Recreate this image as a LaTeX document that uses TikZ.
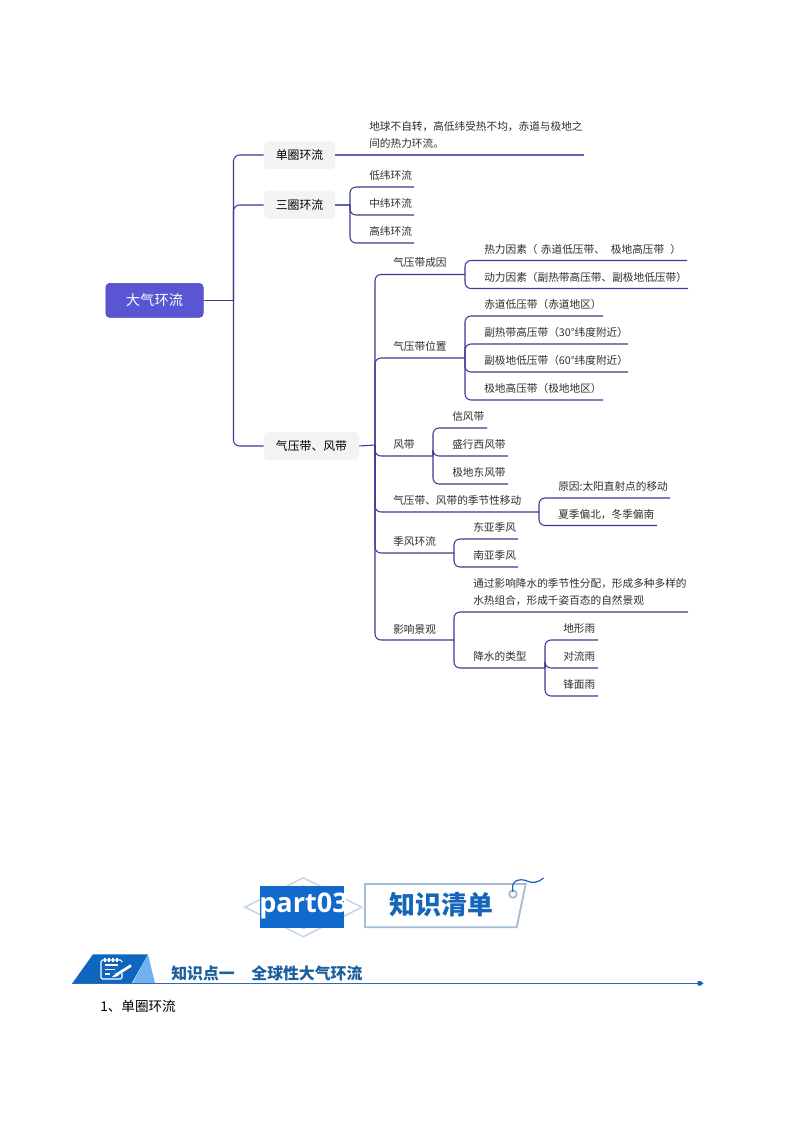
\documentclass[tikz,border=0pt]{standalone}
\usepackage{fontspec}
\setmainfont{Noto Sans CJK SC}
\newfontfamily\partfont{Open Sans}
\definecolor{linedark}{HTML}{3B3A94}
\definecolor{linelight}{HTML}{6262B8}
\definecolor{rootfill}{HTML}{5A55D2}
\definecolor{topicfill}{HTML}{F3F3F3}
\definecolor{txt}{HTML}{2E2E2E}
\definecolor{headblue}{HTML}{1269CC}
\definecolor{headtext}{HTML}{1565B8}
\definecolor{paleblue}{HTML}{C3D5E8}
\definecolor{boxedge}{HTML}{A6BDD6}
\definecolor{sectiondark}{HTML}{0F66BE}
\definecolor{sectionlight}{HTML}{6FB2F2}
\definecolor{sectiontext}{HTML}{1B5E9C}
\definecolor{sectionline}{HTML}{2E6CB0}
\tikzset{
  x=0.75pt,y=-0.75pt,
  conn/.style={draw=linedark,line width=0.8pt,rounded corners=4.5pt},
  connlight/.style={draw=linelight,line width=0.8pt},
  rootbox/.style={draw=rootfill!85!black,line width=0.5pt,fill=rootfill,rounded corners=3pt,text=white,font=\fontsize{10.7}{12}\selectfont,minimum width=73pt,minimum height=25.5pt,inner sep=0pt},
  topic/.style={fill=topicfill,rounded corners=3pt,text=black,font=\fontsize{8.9}{11}\selectfont,minimum height=21pt,inner sep=0pt},
  lab/.style={anchor=west,inner sep=0pt,yshift=-0.5pt,text=txt,font=\fontsize{8}{9.5}\selectfont},
}
% name, junction, text x, line y, line end x, text
\newcommand{\leafline}[6]{%
  \node[lab] (#1) at (#3,#4-12) {#6};
  \coordinate (#1-e) at (#5,#4);
  \draw[conn] (#2) |- (#1-e);
}
\begin{document}
\begin{tikzpicture}
\useasboundingbox (0,0) rectangle (794,1123);
\fill[white] (0,0) rectangle (794,1123);

% --- mind map ---
\node[rootbox] (root) at (154.5,300.4) {\raisebox{0.8pt}{大气环流}};
\node[topic,minimum width=53.25pt] (t1) at (299.5,155) {\raisebox{0.7pt}{单圈环流}};
\node[topic,minimum width=53.25pt] (t2) at (299.5,205) {\raisebox{0.7pt}{三圈环流}};
\node[topic,minimum width=71.25pt] (t3) at (311.5,446) {\raisebox{0.7pt}{气压带、风带}};
\coordinate (j0) at (233.5,300.4);
\draw[conn] (root.east) -- (j0);
\draw[conn] (j0) |- (t1.west);
\draw[conn] (j0) |- (t2.west);
\draw[conn] (j0) |- (t3.west);

% single cell
\coordinate (t1e) at (584,155);
\draw[connlight] (t1.east) -- (t1e);
\node[lab] (d1) at (369,126) {地球不自转，高低纬受热不均，赤道与极地之};
\node[lab] (d2) at (369,143) {间的热力环流。};

% three cells
\coordinate (j2) at (350,205);
\draw[connlight] (t2.east) -- (j2);
\leafline{a1}{j2}{369}{187}{414}{低纬环流}
\leafline{a2}{j2}{369}{215}{414}{中纬环流}
\leafline{a3}{j2}{369}{243}{414}{高纬环流}

% belts
\coordinate (j3) at (375,445);
\draw[conn] (t3.east) -- (j3);
\coordinate (ja) at (465,274.5);
\coordinate (jb) at (465,358);
\coordinate (jc) at (433,456);
\coordinate (jd) at (539,512);
\coordinate (je) at (454,553);
\coordinate (jf) at (454,640);
\node[lab] (b1) at (393,262) {气压带成因};
\node[lab] (b2) at (393,346) {气压带位置};
\node[lab] (b3) at (393,444) {风带};
\node[lab] (b4) at (393,499.5) {气压带、风带的季节性移动};
\node[lab] (b5) at (393,541) {季风环流};
\node[lab] (b6) at (393,628.5) {影响景观};
\draw[conn] (j3) |- (ja);
\draw[conn] (j3) |- (jb);
\draw[conn] (j3) |- (jc);
\draw[conn] (j3) |- (jd);
\draw[conn] (j3) |- (je);
\draw[conn] (j3) |- (jf);

\leafline{c1}{ja}{484}{260.5}{687}{热力因素（\hspace{2.5pt}赤道低压带、\hspace{4.5pt}极地高压带\hspace{4.5pt}）}
\leafline{c2}{ja}{484}{288.5}{688}{动力因素（副热带高压带、副极地低压带）}

\leafline{c3}{jb}{484}{316}{603}{赤道低压带（赤道地区）}
\leafline{c4}{jb}{484}{344}{628}{副热带高压带（30°纬度附近）}
\leafline{c5}{jb}{484}{372}{628}{副极地低压带（60°纬度附近）}
\leafline{c6}{jb}{484}{400}{603}{极地高压带（极地地区）}

\leafline{e1}{jc}{452}{428}{487}{信风带}
\leafline{e2}{jc}{452}{456}{508}{盛行西风带}
\leafline{e3}{jc}{452}{484}{508}{极地东风带}

\leafline{f1}{jd}{558}{498}{670}{原因:太阳直射点的移动}
\leafline{f2}{jd}{558}{525.5}{657}{夏季偏北，冬季偏南}

\leafline{g1}{je}{473}{539}{518}{东亚季风}
\leafline{g2}{je}{473}{567}{518}{南亚季风}

\node[lab] (h0) at (473,583) {通过影响降水的季节性分配，形成多种多样的};
\leafline{h1}{jf}{473}{612}{688}{水热组合，形成千姿百态的自然景观}
\node[lab] (h2) at (473,656) {降水的类型};
\coordinate (jg) at (545,668);
\draw[conn] (jf) |- (jg);
\leafline{k1}{jg}{563}{640}{598}{地形雨}
\leafline{k2}{jg}{563}{668}{598}{对流雨}
\leafline{k3}{jg}{563}{696}{598}{锋面雨}

% --- part03 banner ---
\foreach \s in {1,0.72}{
  \draw[paleblue,line width=1.1pt,fill=white]
    ({303.3-58.3*\s},907.2) -- (303.3,{907.2-29.5*\s}) -- ({303.3+58.3*\s},907.2) -- (303.3,{907.2+29.5*\s}) -- cycle;
}
\fill[headblue] (260.3,885.7) rectangle (344.3,927.7);
\node[inner sep=0pt,text=white,font=\partfont\bfseries\fontsize{20.3}{24}\selectfont] (part) at (303.5,906) {part03};

\draw[boxedge,line width=1.4pt,fill=white] (365,884) -- (525.7,884) -- (516.7,927.3) -- (365,927.3) -- cycle;
\node[inner sep=0pt,text=headtext,font=\bfseries\fontsize{19.4}{22}\selectfont] (qingdan) at (441.7,905) {知识清单};
\draw[boxedge,line width=1.4pt,fill=white] (513,894) circle (2.8pt);
\draw[headtext,line width=0.9pt] (513,892) .. controls (510,880) and (520,878) .. (527,881) .. controls (533,884) and (539,882) .. (543.5,878);

% --- section bar ---
\fill[sectiondark] (72.3,983.3) -- (93,954.3) -- (148,954.3) -- (131.7,983.3) -- cycle;
\fill[sectionlight] (148,954.3) -- (155,983.3) -- (132.7,983.3) -- cycle;
\draw[white,line width=0.9pt,rounded corners=1.2pt] (122,962) -- (122,960) -- (101,960) -- (101,979) -- (122,979) -- (122,973);
\foreach \xx in {105,109,113,117}{\draw[white,line width=0.8pt] (\xx,957.5) -- (\xx,961.5);}
\draw[white,line width=0.9pt] (104.5,965) -- (118,965) (104.5,969.5) -- (115,969.5) (104.5,974) -- (110,974);
\draw[white,line width=2pt] (131,965.5) -- (116,975);
\fill[white] (117,972.5) -- (118.5,976) -- (111.5,977.5) -- cycle;
\node[anchor=west,inner sep=0pt,text=sectiontext,font=\bfseries\fontsize{11.9}{14}\selectfont] (sec) at (171,973.5) {知识点一\hspace{12.5pt}全球性大气环流};
\coordinate (barl) at (72,983.3);
\coordinate (barr) at (702,983.3);
\draw[sectionline,line width=1.1pt] (barl) -- (barr);
\fill[sectiondark] (697.5,981) -- (700.5,981) -- (703.5,983.3) -- (700.5,985.6) -- (697.5,985.6) -- cycle;
\node[anchor=west,inner sep=0pt,text=black,font=\fontsize{10.2}{13}\selectfont] (one) at (100,1006) {1、单圈环流};
\end{tikzpicture}
\end{document}
